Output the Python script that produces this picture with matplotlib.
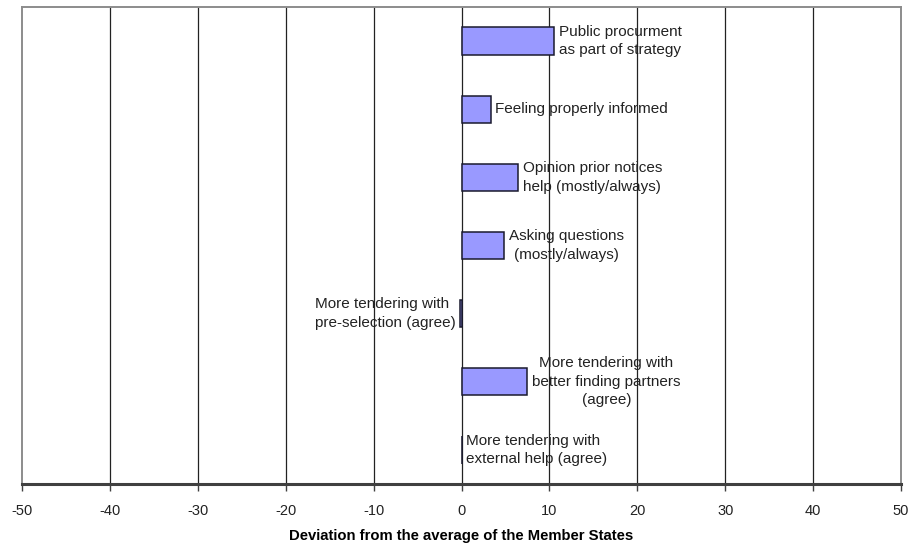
import matplotlib
matplotlib.use("Agg")
import matplotlib.pyplot as plt

plt.rcParams['font.family'] = ['Liberation Sans', 'DejaVu Sans']

# Survey items and their deviation from the Member States average
categories = [
    "Public procurment\nas part of strategy",
    "Feeling properly informed",
    "Opinion prior notices\nhelp (mostly/always)",
    "Asking questions\n(mostly/always)",
    "More tendering with\npre-selection (agree)",
    "More tendering with\nbetter finding partners\n(agree)",
    "More tendering with\nexternal help (agree)",
]
deviation = [10.5, 3.3, 6.4, 4.8, -0.2, 7.5, 0.0]
label_align = ["left", "left", "center", "center", "left", "center", "left"]

x_ticks = [-50, -40, -30, -20, -10, 0, 10, 20, 30, 40, 50]
x_label = "Deviation from the average of the Member States"

fig = plt.figure(figsize=(9.17, 5.48), dpi=100)
ax = fig.add_axes([22 / 917, 64 / 548, 879 / 917, 477 / 548])

ypos = list(range(len(categories)))
ax.barh(ypos, deviation, height=0.4, color="#9999FF",
        edgecolor="#1a1a2e", linewidth=1.1, zorder=3)

ax.set_xlim(-50, 50)
ax.set_ylim(len(categories) - 0.5, -0.5)
ax.set_xticks(x_ticks)
ax.set_xticklabels([str(t) for t in x_ticks], fontsize=10.5, color="#222222")
ax.set_yticks([])

for t in x_ticks[1:-1]:
    ax.axvline(t, color="#222222", linewidth=0.9, zorder=1)

for side in ("top", "left", "right"):
    ax.spines[side].set_color("#8c8c8c")
    ax.spines[side].set_linewidth(1.4)
ax.spines["bottom"].set_color("#404040")
ax.spines["bottom"].set_linewidth(2.2)
ax.tick_params(axis="x", direction="out", length=5, width=1.0,
               color="#404040", pad=9.5)

# Category labels placed beside the end of each bar
for y, v, text, ma in zip(ypos, deviation, categories, label_align):
    if v < 0:
        ax.annotate(text, xy=(v, y), xytext=(-3, 0), textcoords="offset points",
                    ha="right", va="center", multialignment=ma,
                    fontsize=11, color="#222222", linespacing=1.42, zorder=4)
    else:
        ax.annotate(text, xy=(v, y), xytext=(3.5, 0), textcoords="offset points",
                    ha="left", va="center", multialignment=ma,
                    fontsize=11, color="#222222", linespacing=1.42, zorder=4)

ax.set_xlabel(x_label, fontsize=10.7, fontweight="bold", labelpad=7.5)

fig.savefig("out.png", dpi=100)
